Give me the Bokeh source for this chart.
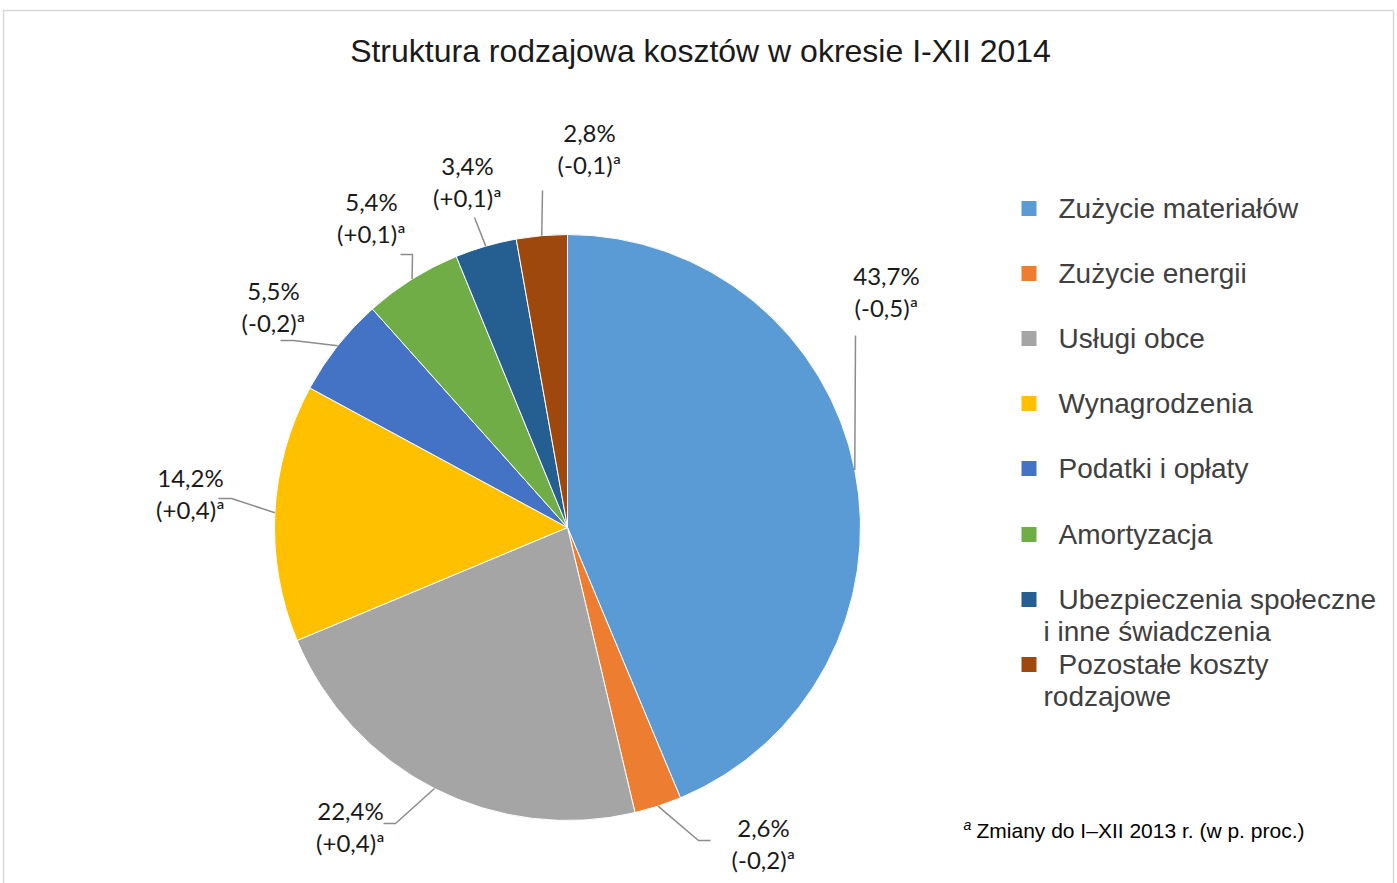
import numpy as np
from bokeh.plotting import figure
from bokeh.models import Range1d, ColumnDataSource
from bokeh.core.properties import value
from bokeh.embed import file_html
from bokeh.resources import INLINE

# ---------------- data ----------------
categories = ["Zużycie materiałów", "Zużycie energii", "Usługi obce", "Wynagrodzenia",
              "Podatki i opłaty", "Amortyzacja",
              "Ubezpieczenia społeczne i inne świadczenia", "Pozostałe koszty rodzajowe"]
shares = [43.7, 2.6, 22.4, 14.2, 5.5, 5.4, 3.4, 2.8]
changes = ["-0,5", "-0,2", "+0,4", "+0,4", "-0,2", "+0,1", "+0,1", "-0,1"]
colors = ["#5B9BD5", "#ED7D31", "#A5A5A5", "#FFC000", "#4472C4", "#70AD47", "#255E91", "#9E480E"]
title = "Struktura rodzajowa kosztów w okresie I-XII 2014"
footnote = "Zmiany do I–XII 2013 r. (w p. proc.)"

# ---------------- layout helpers (screen px -> data) ----------------
W, H = 1397, 883
def sx(x): return x
def sy(y): return H - y

p = figure(width=W, height=H, x_range=Range1d(0, W), y_range=Range1d(0, H),
           output_backend="svg", toolbar_location=None, min_border=0)
p.axis.visible = False
p.grid.visible = False
p.outline_line_color = None
p.background_fill_color = "white"
p.border_fill_color = "white"

# outer frame
p.multi_line(xs=[[sx(3), sx(3), sx(1393), sx(1393)]], ys=[[0, sy(10), sy(10), 0]],
             line_color="#d9d9d9", line_width=1.5)

# ---------------- pie ----------------
cx, cy, R = sx(567), sy(527), 293
frac = np.array(shares) / np.sum(shares)
cum = np.concatenate([[0], np.cumsum(frac)])
start = np.pi / 2 - 2 * np.pi * cum[:-1]
end = np.pi / 2 - 2 * np.pi * cum[1:]
src = ColumnDataSource(dict(start=start, end=end, color=colors))
p.wedge(x=cx, y=cy, radius=R, start_angle="start", end_angle="end", direction="clock",
        fill_color="color", line_color="white", line_width=1, source=src)

# ---------------- data labels with leader lines ----------------
mid = np.pi / 2 - 2 * np.pi * (cum[:-1] + cum[1:]) / 2
edge_x = cx + R * np.cos(mid)
edge_y = cy + R * np.sin(mid)

label_pos = [(886, 275), (763, 827), (350, 810), (190, 477),
             (273, 290), (371, 201), (467, 165), (589, 132)]
elbows = [[(855, 335)], [(698, 840), (710, 840)], [(395, 823), (383, 823)],
          [(231, 498), (218, 498)], [(293, 340), (280, 340)], [(412, 254), (400, 254)],
          [(474, 217)], [(542, 190)]]

lx, ly = [], []
for i in range(len(shares)):
    xs = [edge_x[i]] + [sx(a) for a, b in elbows[i]]
    ys = [edge_y[i]] + [sy(b) for a, b in elbows[i]]
    lx.append(xs); ly.append(ys)
p.multi_line(xs=lx, ys=ly, line_color="#8c8c8c", line_width=1.5)

t1 = [f"{s:.1f}%".replace(".", ",") for s in shares]
t2 = [f"({c})ª" for c in changes]
lab_x = [sx(a) for a, b in label_pos]
p.text(x=lab_x, y=[sy(b) for a, b in label_pos], text=t1, text_align="center",
       text_baseline="middle", text_font=value("Lato"), text_font_size="24px", text_color="#1a1a1a")
p.text(x=lab_x, y=[sy(b + 32) for a, b in label_pos], text=t2, text_align="center",
       text_baseline="middle", text_font=value("Lato"), text_font_size="24px", text_color="#1a1a1a")

# ---------------- title ----------------
p.text(x=[sx(700)], y=[sy(50)], text=[title], text_align="center", text_baseline="middle",
       text_font=value("Liberation Sans"), text_font_size="32px", text_color="#1a1a1a")

# ---------------- legend ----------------
wrap = {"Ubezpieczenia społeczne i inne świadczenia": ["Ubezpieczenia społeczne", "i inne świadczenia"],
        "Pozostałe koszty rodzajowe": ["Pozostałe koszty", "rodzajowe"]}
leg_y = [208, 273, 338, 403, 468, 534, 599, 664]
p.rect(x=[sx(1028.5)] * len(categories), y=[sy(v) for v in leg_y], width=15, height=15,
       fill_color=colors, line_color=None)
fx, fy, ft = [], [], []
cx2, cy2, ct2 = [], [], []
for cat, yv in zip(categories, leg_y):
    lines = wrap.get(cat, [cat])
    fx.append(sx(1058)); fy.append(sy(yv)); ft.append(lines[0])
    for k, extra in enumerate(lines[1:]):
        cx2.append(sx(1043)); cy2.append(sy(yv + 32 * (k + 1))); ct2.append(extra)
p.text(x=fx, y=fy, text=ft, text_baseline="middle", text_font=value("Liberation Sans"),
       text_font_size="28px", text_color="#404040")
p.text(x=cx2, y=cy2, text=ct2, text_baseline="middle", text_font=value("Liberation Sans"),
       text_font_size="28px", text_color="#404040")

# ---------------- footnote ----------------
p.text(x=[sx(963)], y=[sy(824)], text=["a"], text_baseline="middle",
       text_font=value("Liberation Sans"), text_font_style="italic", text_font_size="14px",
       text_color="#000000")
p.text(x=[sx(976)], y=[sy(830)], text=[footnote], text_baseline="middle",
       text_font=value("Liberation Sans"), text_font_size="21px", text_color="#000000")

open("out.html", "w").write(file_html(p, INLINE))
